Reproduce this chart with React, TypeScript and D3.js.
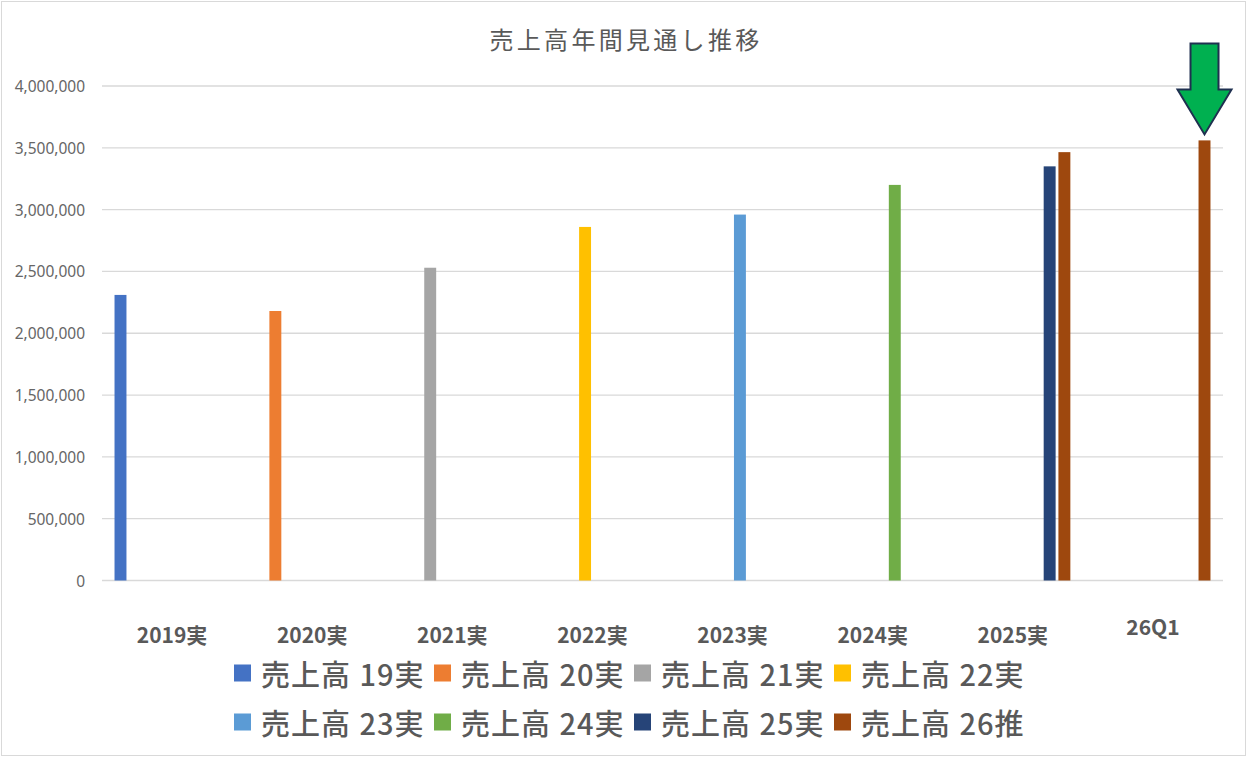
import React from "react";
import * as d3 from "d3";

// chart data
const categories = ["2019実", "2020実", "2021実", "2022実", "2023実", "2024実", "2025実", "26Q1"];
const seriesNames = ["売上高 19実", "売上高 20実", "売上高 21実", "売上高 22実", "売上高 23実", "売上高 24実", "売上高 25実", "売上高 26推"];
const seriesColors = ["#4472C4", "#ED7D31", "#A5A5A5", "#FFC000", "#5B9BD5", "#70AD47", "#264478", "#9E480E"];

// one array per series, aligned with categories (null = no bar)
const s19 = [2310000, null, null, null, null, null, null, null];
const s20 = [null, 2180000, null, null, null, null, null, null];
const s21 = [null, null, 2530000, null, null, null, null, null];
const s22 = [null, null, null, 2860000, null, null, null, null];
const s23 = [null, null, null, null, 2960000, null, null, null];
const s24 = [null, null, null, null, null, 3200000, null, null];
const s25 = [null, null, null, null, null, null, 3350000, null];
const s26 = [null, null, null, null, null, null, 3465000, 3560000];
const seriesValues = [s19, s20, s21, s22, s23, s24, s25, s26];

const yTicks = [0, 500000, 1000000, 1500000, 2000000, 2500000, 3000000, 3500000, 4000000];

const W = 1249;
const H = 757;
const plot = { left: 102, right: 1223, top: 86, bottom: 580.5 };
const textColor = "#595959";
const jpFont = "'Noto Sans CJK JP', 'Noto Sans', sans-serif";

export default function App() {
    const x0 = d3.scaleBand<string>()
        .domain(categories)
        .range([plot.left, plot.right])
        .paddingInner(0)
        .paddingOuter(0);

    const x1 = d3.scaleBand<string>()
        .domain(seriesNames)
        .range([0, x0.bandwidth()])
        .paddingInner(0.19)
        .paddingOuter(0.85);

    const y = d3.scaleLinear()
        .domain([0, 4000000])
        .range([plot.bottom, plot.top]);

    const fmt = d3.format(",");

    const bars: JSX.Element[] = [];
    seriesValues.forEach((vals, si) => {
        vals.forEach((v, ci) => {
            if (v == null) return;
            const bx = (x0(categories[ci]) as number) + (x1(seriesNames[si]) as number);
            bars.push(
                <rect
                    key={`b-${si}-${ci}`}
                    x={bx}
                    y={y(v)}
                    width={x1.bandwidth()}
                    height={y(0) - y(v)}
                    fill={seriesColors[si]}
                />
            );
        });
    });

    // arrow pointing at the latest forecast bar
    const lastIdx = categories.length - 1;
    const lastVal = s26[lastIdx] as number;
    const tipX = (x0(categories[lastIdx]) as number) + (x1(seriesNames[7]) as number) + x1.bandwidth() / 2;
    const tipY = y(lastVal) - 6;
    const headW = 27, headH = 45, shaftW = 14, shaftH = 46;
    const arrowPts = [
        [tipX - shaftW, tipY - headH - shaftH],
        [tipX + shaftW, tipY - headH - shaftH],
        [tipX + shaftW, tipY - headH],
        [tipX + headW, tipY - headH],
        [tipX, tipY],
        [tipX - headW, tipY - headH],
        [tipX - shaftW, tipY - headH],
    ].map(p => p.join(",")).join(" ");

    return (
        <svg
            width={W}
            height={H}
            style={{ position: "absolute", left: 0, top: 0, background: "#fff" }}
        >
            <rect x={1.5} y={1.5} width={1244} height={754} fill="#fff" stroke="#d9d9d9" />

            <text
                x={626}
                y={38}
                textAnchor="middle"
                dominantBaseline="central"
                fontFamily={jpFont}
                fontSize={24}
                letterSpacing={3.3}
                fill={textColor}
            >
                売上高年間見通し推移
            </text>

            {/* grid + y axis */}
            {yTicks.map(t => (
                <g key={`t-${t}`}>
                    <line x1={plot.left} x2={plot.right} y1={y(t)} y2={y(t)} stroke="#d9d9d9" strokeWidth={1.3} />
                    <text
                        x={85}
                        y={y(t)}
                        textAnchor="end"
                        dominantBaseline="central"
                        fontFamily="'Noto Sans', sans-serif"
                        fontSize={15.5}
                        fill="#666"
                    >
                        {fmt(t)}
                    </text>
                </g>
            ))}

            {bars}

            {/* category labels */}
            {categories.map((c, i) => (
                <text
                    key={`c-${c}`}
                    x={(x0(c) as number) + x0.bandwidth() / 2}
                    y={i === lastIdx ? 626 : 634}
                    textAnchor="middle"
                    dominantBaseline="central"
                    fontFamily={jpFont}
                    fontWeight="bold"
                    fontSize={21}
                    fill={textColor}
                >
                    {c}
                </text>
            ))}

            <polygon points={arrowPts} fill="#00B050" stroke="#1F3050" strokeWidth={2} strokeLinejoin="miter" />

            {/* legend */}
            {seriesNames.map((s, i) => {
                const lx = 234 + (i % 4) * 200;
                const ly = i < 4 ? 673 : 722;
                return (
                    <g key={`l-${s}`}>
                        <rect x={lx} y={ly - 8.5} width={17} height={17} fill={seriesColors[i]} />
                        <text
                            x={lx + 27}
                            y={ly}
                            dominantBaseline="central"
                            fontFamily={jpFont}
                            fontWeight={500}
                            fontSize={29}
                            letterSpacing={1}
                            wordSpacing={1}
                            fill={textColor}
                        >
                            {s}
                        </text>
                    </g>
                );
            })}
        </svg>
    );
}
